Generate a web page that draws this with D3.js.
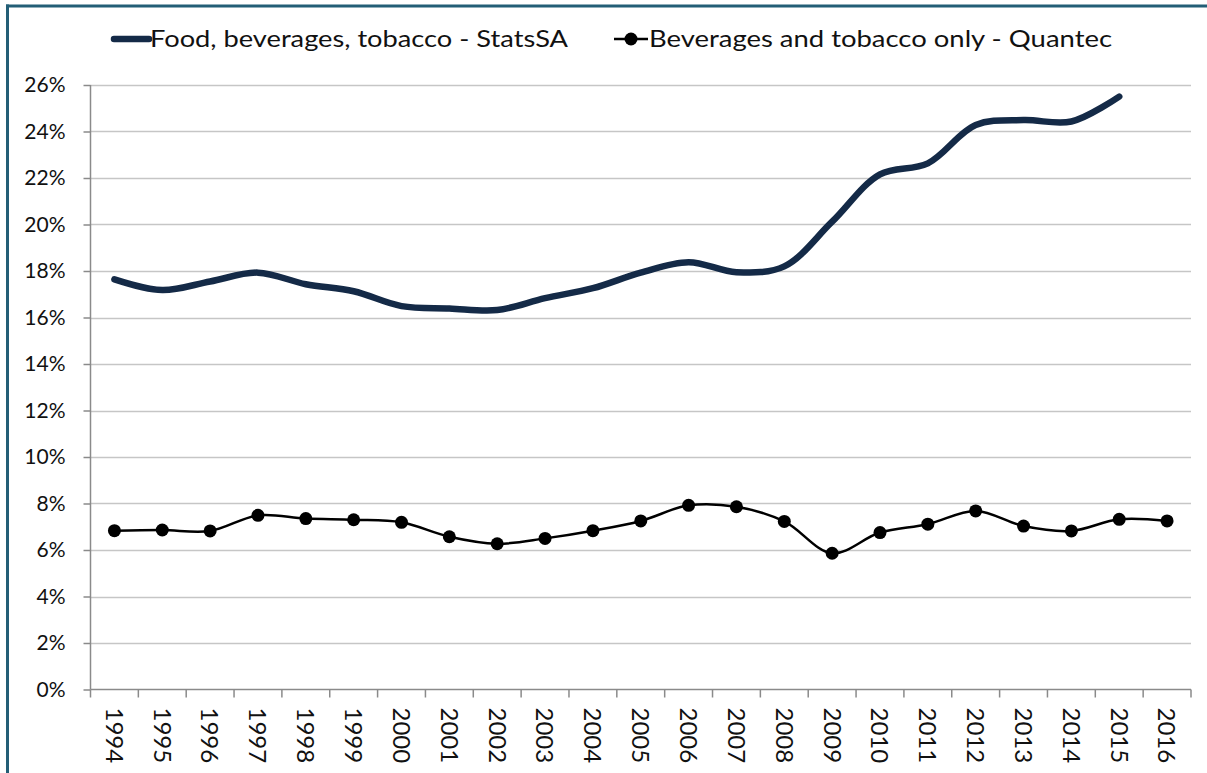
<!DOCTYPE html>
<html>
<head>
<meta charset="utf-8">
<script src="https://cdn.jsdelivr.net/npm/d3@7"></script>
<style>
  html, body { margin: 0; padding: 0; background: #fff; }
  svg { display: block; font-family: Lato, "Open Sans", sans-serif; }
</style>
</head>
<body>
<svg id="chart" width="1207" height="773"></svg>
<script>
// Years on the category axis
const years = ["1994","1995","1996","1997","1998","1999","2000","2001","2002","2003","2004","2005",
               "2006","2007","2008","2009","2010","2011","2012","2013","2014","2015","2016"];

// Share (%) – food, beverages and tobacco, StatsSA (no 2016 value)
const statsSA = [17.64, 17.18, 17.55, 17.93, 17.43, 17.13, 16.49, 16.39, 16.32, 16.83, 17.26, 17.93,
                 18.38, 17.95, 18.2, 20.12, 22.16, 22.63, 24.28, 24.49, 24.43, 25.5, null];

// Share (%) – beverages and tobacco only, Quantec
const quantec = [6.83, 6.86, 6.82, 7.49, 7.35, 7.30, 7.19, 6.57, 6.27, 6.50, 6.83, 7.25,
                 7.92, 7.86, 7.23, 5.86, 6.75, 7.11, 7.68, 7.03, 6.82, 7.32, 7.25];

const yTicks = [0, 2, 4, 6, 8, 10, 12, 14, 16, 18, 20, 22, 24, 26];

const seriesNames = ["Food, beverages, tobacco - StatsSA", "Beverages and tobacco only - Quantec"];

const svg = d3.select("#chart");
const W = 1207, H = 773;
const plot = { left: 90.5, right: 1191, top: 85, bottom: 689.5 };

const x = d3.scaleBand().domain(years).range([plot.left, plot.right]).padding(0);
const y = d3.scaleLinear().domain([0, 26]).range([plot.bottom, plot.top]);
const cx = d => x(d) + x.bandwidth() / 2;

// frame
svg.append("line").attr("x1", 7.5).attr("x2", 7.5).attr("y1", 4.5).attr("y2", H)
  .attr("stroke", "#235e76").attr("stroke-width", 3);
svg.append("line").attr("x1", 6).attr("x2", W).attr("y1", 6).attr("y2", 6)
  .attr("stroke", "#235e76").attr("stroke-width", 3);

// horizontal gridlines
svg.append("g").selectAll("line").data(yTicks.filter(t => t > 0)).join("line")
  .attr("x1", plot.left).attr("x2", plot.right)
  .attr("y1", d => Math.round(y(d)) + 0.5).attr("y2", d => Math.round(y(d)) + 0.5)
  .attr("stroke", "#c6c6c6").attr("stroke-width", 1.5);

// y axis
const yAxis = svg.append("g").attr("transform", `translate(${plot.left},0)`)
  .call(d3.axisLeft(y).tickValues(yTicks).tickFormat(d => d + "%").tickSize(7).tickPadding(18));
yAxis.select(".domain").attr("stroke", "#8a8a8a").attr("stroke-width", 1.5)
  .attr("d", `M0,${plot.top}V${plot.bottom}`);
yAxis.selectAll(".tick line").attr("stroke", "#8a8a8a").attr("stroke-width", 1.5);
yAxis.selectAll(".tick text").attr("font-size", 21).attr("fill", "#111")
  .attr("font-family", "Lato, sans-serif");

// x axis: ticks on category boundaries
const xg = svg.append("g");
xg.append("line").attr("x1", plot.left).attr("x2", plot.right)
  .attr("y1", plot.bottom).attr("y2", plot.bottom)
  .attr("stroke", "#8a8a8a").attr("stroke-width", 1.5);
const bounds = years.map(d => x(d)).concat([plot.right]);
xg.selectAll("line.tk").data(bounds).join("line").attr("class", "tk")
  .attr("x1", d => d).attr("x2", d => d)
  .attr("y1", plot.bottom).attr("y2", plot.bottom + 8)
  .attr("stroke", "#8a8a8a").attr("stroke-width", 1.5);
xg.selectAll("text").data(years).join("text")
  .attr("transform", d => `translate(${cx(d)},${plot.bottom + 18}) rotate(90)`)
  .attr("dy", "0.36em")
  .attr("font-size", 24).attr("fill", "#111")
  .text(d => d);

// StatsSA smoothed line
const lineS = d3.line()
  .defined(d => d.v != null)
  .x(d => cx(d.year)).y(d => y(d.v))
  .curve(d3.curveCatmullRom.alpha(0.5));
const dataS = years.map((yr, i) => ({ year: yr, v: statsSA[i] }));
svg.append("path").datum(dataS).attr("d", lineS)
  .attr("fill", "none").attr("stroke", "#142a47").attr("stroke-width", 6.5)
  .attr("stroke-linecap", "round").attr("stroke-linejoin", "round");

// Quantec smoothed line with markers
const dataQ = years.map((yr, i) => ({ year: yr, v: quantec[i] }));
svg.append("path").datum(dataQ).attr("d", lineS)
  .attr("fill", "none").attr("stroke", "#000").attr("stroke-width", 2.5);
svg.append("g").selectAll("circle").data(dataQ).join("circle")
  .attr("cx", d => cx(d.year)).attr("cy", d => y(d.v)).attr("r", 6.5)
  .attr("fill", "#000");

// legend
const lg = svg.append("g");
lg.append("line").attr("x1", 114).attr("x2", 149).attr("y1", 39).attr("y2", 39)
  .attr("stroke", "#142a47").attr("stroke-width", 6.5).attr("stroke-linecap", "round");
lg.append("text").attr("x", 150).attr("y", 47).attr("font-size", 24).attr("fill", "#111")
  .attr("textLength", 418).attr("lengthAdjust", "spacingAndGlyphs")
  .text(seriesNames[0]);
lg.append("line").attr("x1", 614).attr("x2", 648).attr("y1", 39).attr("y2", 39)
  .attr("stroke", "#000").attr("stroke-width", 2.5);
lg.append("circle").attr("cx", 631).attr("cy", 39).attr("r", 6.5).attr("fill", "#000");
lg.append("text").attr("x", 649).attr("y", 47).attr("font-size", 24).attr("fill", "#111")
  .attr("textLength", 463).attr("lengthAdjust", "spacingAndGlyphs")
  .text(seriesNames[1]);
</script>
</body>
</html>
